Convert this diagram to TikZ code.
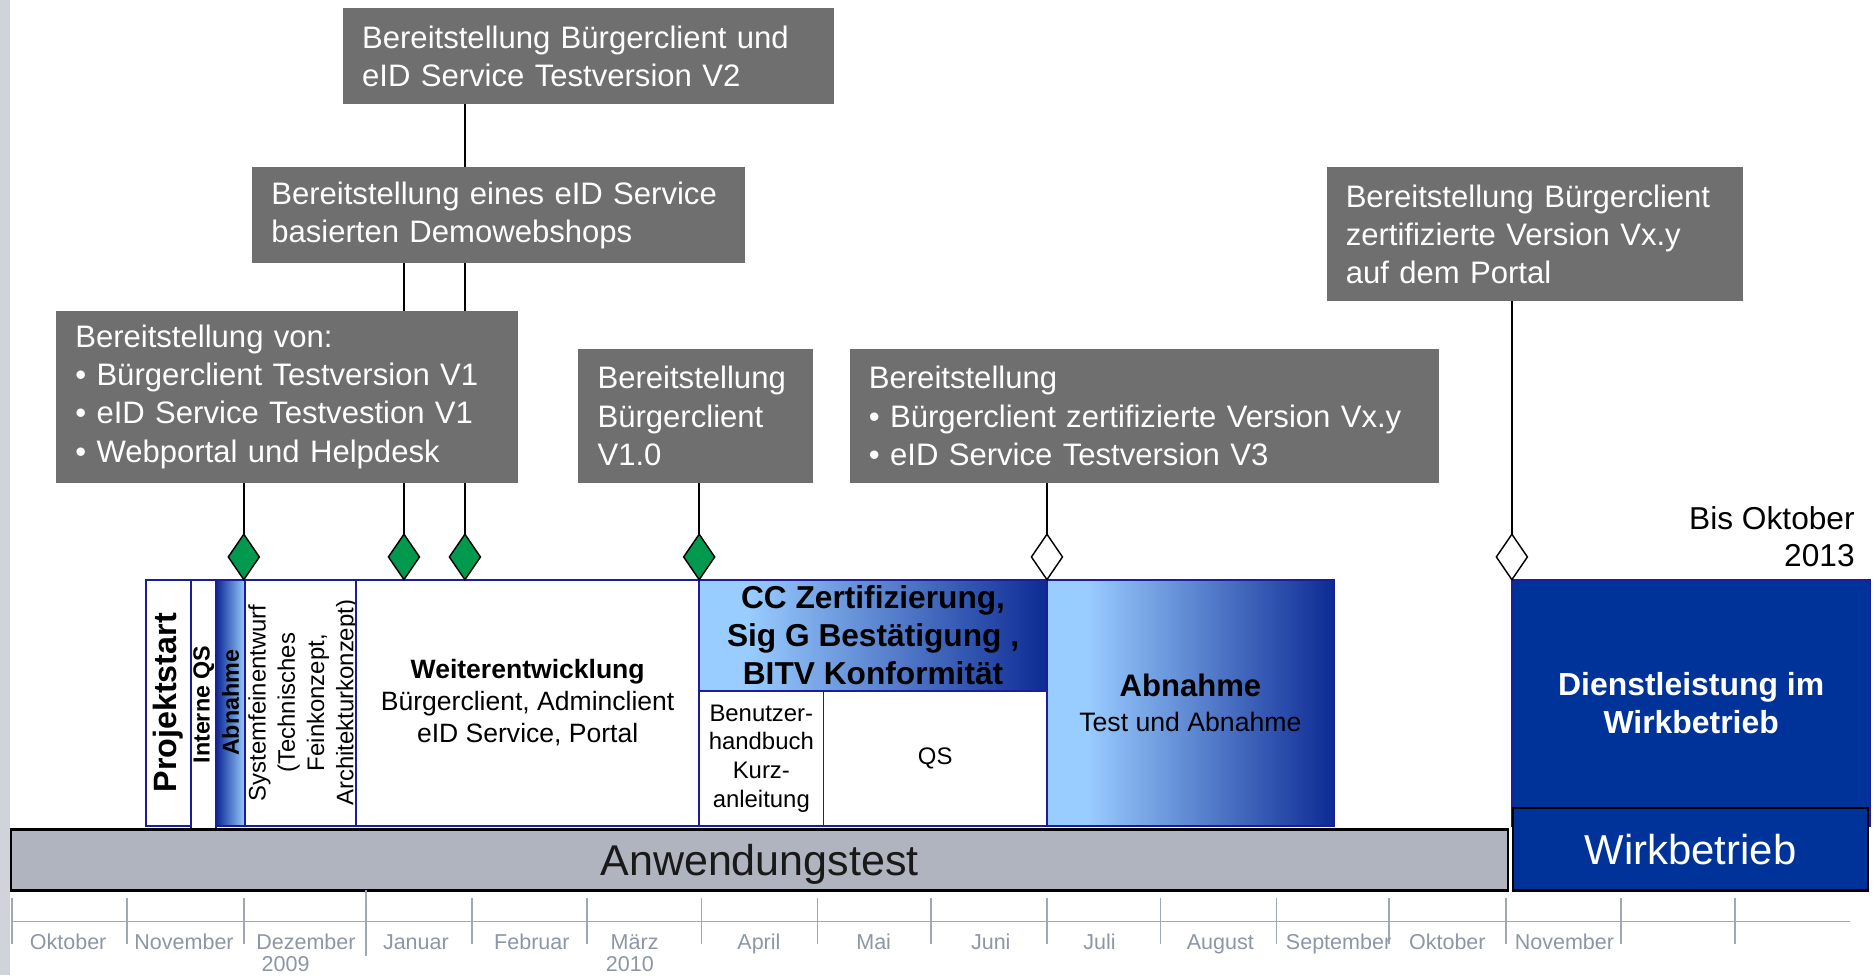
\documentclass[tikz,border=0pt]{standalone}
\usepackage{fontspec}
\setmainfont{Liberation Sans}
\usetikzlibrary{shapes.geometric,backgrounds}
\definecolor{boxgrey}{HTML}{6F6F6F}
\definecolor{msgreen}{HTML}{00994D}
\definecolor{phaseblue}{HTML}{1C1C9C}
\definecolor{lb}{HTML}{99CCFF}
\definecolor{db}{HTML}{0D2B94}
\definecolor{wblue}{HTML}{003399}
\definecolor{barGrey}{HTML}{B0B4BF}
\definecolor{axisgrey}{HTML}{A0A8B4}
\definecolor{monthgrey}{HTML}{8C96A5}
\definecolor{stripgrey}{HTML}{D0D3DC}
\pgfdeclarehorizontalshading{lightdark}{100bp}{color(0bp)=(lb); color(25bp)=(lb); color(32bp)=(lb); color(75bp)=(db); color(100bp)=(db)}
\begin{document}
\begin{tikzpicture}[x=1pt,y=-1pt,
  topbox/.style={fill=boxgrey, text=white, inner xsep=16pt, inner ysep=0pt, outer sep=0pt,
    anchor=north west, align=left, font=\fontsize{26}{32}\selectfont},
  phase/.style={draw=phaseblue, line width=1.5pt, fill=white, inner sep=0pt, outer sep=0pt,
    anchor=north west, align=center},
  ms/.style={diamond, draw=black, line width=1.2pt, minimum width=26pt, minimum height=38pt,
    inner sep=0pt, outer sep=0pt, anchor=south},
  conn/.style={draw=black, line width=1.2pt},
  month/.style={text=monthgrey, font=\fontsize{18}{19}\selectfont, inner sep=0pt, anchor=base},
  blackbar/.style={draw=black, line width=2pt, inner sep=0pt, outer sep=0pt, anchor=north west}
]
\useasboundingbox (0,0) rectangle (1568,816);
\fill[stripgrey] (0,0) rectangle (8,816);

% top boxes
\node[topbox, minimum width=411pt, minimum height=80pt, text width=379pt] (b1) at (287,7)
  {Bereitstellung Bürgerclient und\\eID Service Testversion V2};
\node[topbox, minimum width=412pt, minimum height=80pt, text width=380pt] (b2) at (211,140)
  {Bereitstellung eines eID Service\\basierten Demowebshops};
\node[topbox, minimum width=386pt, minimum height=144pt, text width=354pt] (b3) at (47,260)
  {Bereitstellung von:\\• Bürgerclient Testversion V1\\• eID Service Testvestion V1\\• Webportal und Helpdesk};
\node[topbox, minimum width=196pt, minimum height=112pt, text width=164pt] (b4) at (484,292)
  {Bereitstellung\\Bürgerclient\\V1.0};
\node[topbox, minimum width=493pt, minimum height=112pt, text width=461pt] (b5) at (711,292)
  {Bereitstellung\\• Bürgerclient zertifizierte Version Vx.y\\• eID Service Testversion V3};
\node[topbox, minimum width=348pt, minimum height=112pt, text width=316pt] (b6) at (1110,140)
  {Bereitstellung Bürgerclient\\zertifizierte Version Vx.y\\auf dem Portal};

% phases
\node[phase, minimum width=38pt, minimum height=206pt] (ps) at (122,485)
  {\rotatebox{90}{\bfseries\fontsize{27}{30}\selectfont Projektstart}};
\node[phase, minimum width=21pt, minimum height=209pt] (iqs) at (160,485)
  {\rotatebox{90}{\bfseries\fontsize{19.5}{22}\selectfont Interne QS}};
\node[phase, left color=db, right color=lb, minimum width=24pt, minimum height=206pt] (abn1) at (181,485)
  {\rotatebox{90}{\bfseries\fontsize{19.5}{22}\selectfont Abnahme}};
\node[phase, minimum width=93pt, minimum height=206pt] (sfe) at (205,485)
  {\rotatebox{90}{\fontsize{20}{24.5}\selectfont\begin{tabular}{@{}c@{}}Systemfeinentwurf\\(Technisches\\Feinkonzept,\\Architekturkonzept)\end{tabular}}};
\node[phase, minimum width=287pt, minimum height=206pt, font=\fontsize{22.2}{27}\selectfont] (we) at (298,485)
  {{\bfseries Weiterentwicklung}\\Bürgerclient, Adminclient\\eID Service, Portal};
\node[phase, shading=lightdark, minimum width=291pt, minimum height=93pt, font=\bfseries\fontsize{26.5}{31.5}\selectfont] (cc) at (585,485)
  {CC Zertifizierung,\\Sig G Bestätigung ,\\ BITV Konformität};
\node[phase, minimum width=104pt, minimum height=113pt, font=\fontsize{20}{24}\selectfont] (bh) at (585,578)
  {Benutzer-\\handbuch\\Kurz-\\anleitung};
\node[phase, minimum width=187pt, minimum height=113pt, font=\fontsize{20}{24}\selectfont] (qs) at (689,578)
  {QS};
\node[phase, shading=lightdark, minimum width=240pt, minimum height=206pt, font=\fontsize{22.3}{29}\selectfont] (abn2) at (876,485)
  {{\bfseries\fontsize{26}{29}\selectfont Abnahme}\\Test und Abnahme};
\node[phase, fill=wblue, text=white, minimum width=300pt, minimum height=206pt, font=\bfseries\fontsize{26.7}{32}\selectfont] (dl) at (1265,485)
  {Dienstleistung im\\Wirkbetrieb};

% bars
\node[blackbar, fill=barGrey, minimum width=1253pt, minimum height=51pt, text depth=0pt, font=\fontsize{36}{40}\selectfont, text=black!90] (aw) at (9,694)
  {Anwendungstest};
\node[blackbar, fill=wblue, text=white, minimum width=297pt, minimum height=69pt, font=\fontsize{35}{40}\selectfont] (wb) at (1266,676)
  {Wirkbetrieb};

% milestones
\node[ms, fill=msgreen] (d1) at (204,485) {};
\node[ms, fill=msgreen] (d2) at (338,485) {};
\node[ms, fill=msgreen] (d3) at (389,485) {};
\node[ms, fill=msgreen] (d4) at (585,485) {};
\node[ms, fill=white] (d5) at (876,485) {};
\node[ms, fill=white] (d6) at (1265,485) {};

\begin{pgfonlayer}{background}
\draw[conn] (d1.north |- b3.south) -- (d1.north);
\draw[conn] (d2.north |- b2.south) -- (d2.north);
\draw[conn] (d3.north |- b1.south) -- (d3.north);
\draw[conn] (d4.north |- b4.south) -- (d4.north);
\draw[conn] (d5.north |- b5.south) -- (d5.north);
\draw[conn] (d6.north |- b6.south) -- (d6.north);
\end{pgfonlayer}

\node[align=right, anchor=east, inner sep=0pt, font=\fontsize{26.5}{31}\selectfont] (bis) at (1552,449)
  {Bis Oktober\\2013};

% timeline
\draw[axisgrey, line width=1.5pt] (10,771) -- (1548,771);
\foreach \t in {10,106,204,395,491,587,684,779,876,971,1068,1162,1260,1356,1452}
  \draw[axisgrey, line width=1.5pt] (\t,751) -- (\t,790);
\draw[axisgrey, line width=1.5pt] (306,745) -- (306,800);
\foreach \p/\m in {57/Oktober,154/November,256/Dezember,348/Januar,445/Februar,531/März,635/April,731/Mai,829/Juni,920/Juli,1021/August,1120/September,1211/Oktober,1309/November}
  \node[month] at (\p,794.5) {\m};
\node[month] (y09) at (239,812.5) {2009};
\node[month] (y10) at (527,812.5) {2010};
\end{tikzpicture}
\end{document}
